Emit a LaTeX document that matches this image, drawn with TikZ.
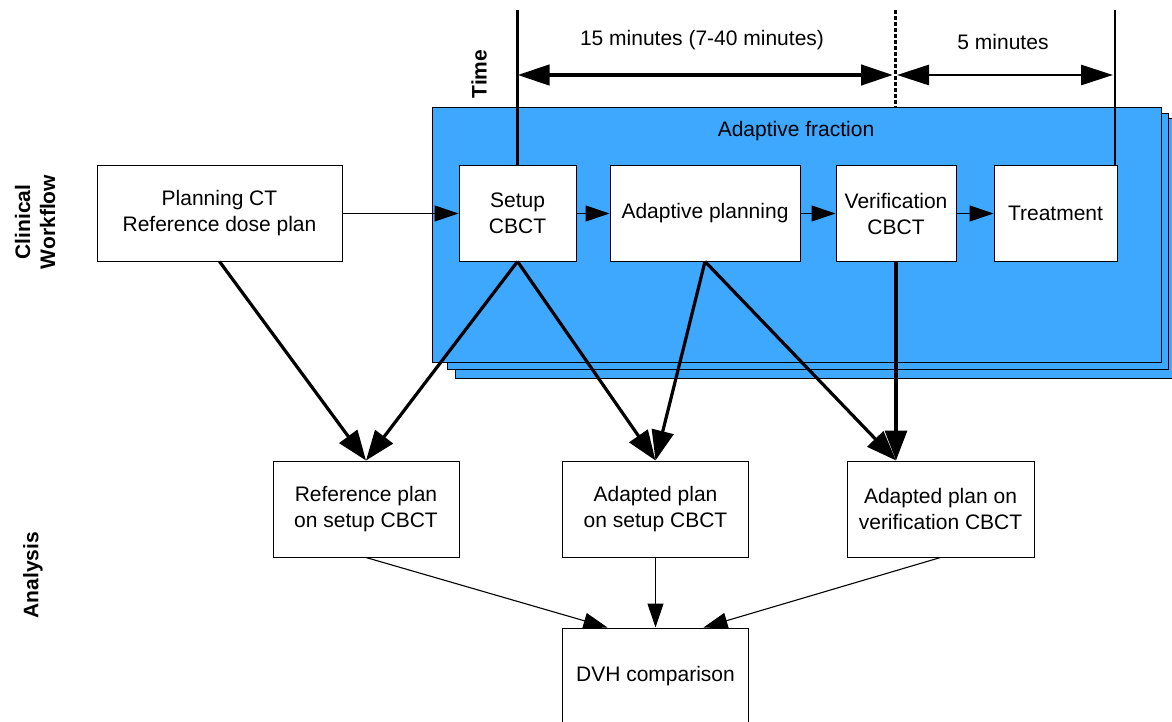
\documentclass[tikz,border=0pt]{standalone}
\usepackage{fontspec}
\setmainfont{Liberation Sans}
\usetikzlibrary{arrows.meta,positioning,calc}
\definecolor{fracblue}{RGB}{62,168,255}

\begin{document}
\begin{tikzpicture}[
    x=1pt,
    y=-1pt,
    font=\fontsize{21}{26}\selectfont,
    box/.style={draw, line width=1pt, fill=white, align=center, inner sep=0pt, minimum height=95pt},
    flow/.style={-{Triangle[length=24pt,width=16pt]}, line width=1.1pt},
    heavy/.style={-{Triangle[length=30pt,width=22pt]}, line width=3.2pt},
    span/.style={{Triangle[length=32pt,width=20pt]}-{Triangle[length=32pt,width=20pt]}},
    panel/.style={draw, line width=1pt, fill=fracblue},
    side/.style={rotate=90, align=center, font=\fontsize{21}{25}\selectfont\bfseries}
]
\useasboundingbox (0,0) rectangle (1172,722);
\clip (0,0) rectangle (1172,722);

% Adaptive fraction panels
\draw[panel] (455,119) rectangle (1190,378);
\draw[panel] (447,114) rectangle (1168,369);
\draw[panel] (432,108) rectangle (1161,362);
\node (frac) at (796,131) {Adaptive fraction};

% Side labels
\node[side] (clin) at (35,222) {Clinical\\Workflow};
\node[side] (ana) at (33,575) {Analysis};
\node[side] (time) at (479,74) {Time};

% Clinical workflow
\node[box, minimum width=245pt] (plan) at (219.5,213.5) {Planning CT\\Reference dose plan};
\node[box, minimum width=117pt] (setup) at (517.5,213.5) {Setup\\CBCT};
\node[box, minimum width=190pt] (adapt) at (705,213.5) {Adaptive planning};
\node[box, minimum width=120pt] (verif) at (896,213.5) {Verification\\CBCT};
\node[box, minimum width=123pt] (treat) at (1055.5,213.5) {Treatment};

% Analysis
\node[box, minimum width=186pt, minimum height=96pt] (ref) at (366,509) {Reference plan\\on setup CBCT};
\node[box, minimum width=186pt, minimum height=96pt] (adset) at (655.5,509) {Adapted plan\\on setup CBCT};
\node[box, minimum width=187pt, minimum height=96pt] (adver) at (940.5,509) {Adapted plan on\\verification CBCT};
\node[box, minimum width=186pt, minimum height=96pt] (dvh) at (655.5,676) {DVH comparison};

% Time axis
\coordinate (tA) at (517.5,10);
\coordinate (tB) at (895,10);
\coordinate (tC) at (1115,10);
\draw[line width=2.4pt] (tA) -- (setup.north);
\draw[line width=2.4pt] (tC) -- (tC |- treat.north);
\draw[line width=3pt, dash pattern=on 4pt off 2pt] (tB) -- (895,108);
\coordinate (aA) at (517.5,75);
\coordinate (aB1) at (893,75);
\coordinate (aB2) at (897,75);
\coordinate (aC) at (1113,75);
\draw[span, line width=4.5pt] (aA) -- (aB1);
\draw[span, line width=2.8pt] (aB2) -- (aC);
\node (long) at (702,40) {15 minutes (7-40 minutes)};
\node (short) at (1003,42) {5 minutes};

% Workflow arrows
\draw[flow] (plan.east) -- (setup.west);
\draw[flow] (setup.east) -- (adapt.west);
\draw[flow] (adapt.east) -- (verif.west);
\draw[flow] (verif.east) -- (treat.west);

% Into the analysis
\coordinate (hit) at (verif.south |- adver.north);
\draw[heavy] (plan.south) -- (ref.north);
\draw[heavy] (setup.south) -- (ref.north);
\draw[heavy] (setup.south) -- (adset.north);
\draw[heavy] (adapt.south) -- (adset.north);
\draw[heavy] (adapt.south) -- (hit);
\draw[heavy] (verif.south) -- (hit);

% Comparison
\coordinate (dvhL) at ($(dvh.north)+(-48,0)$);
\coordinate (dvhR) at ($(dvh.north)+(48,0)$);
\draw[flow] (ref.south) -- (dvhL);
\draw[flow] (adset.south) -- (dvh.north);
\draw[flow] (adver.south) -- (dvhR);
\end{tikzpicture}
\end{document}
